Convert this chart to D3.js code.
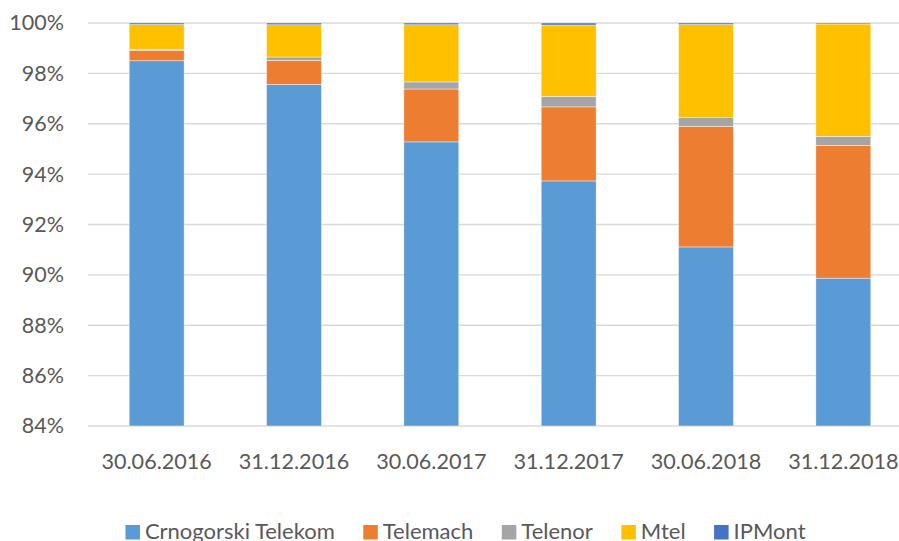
<!DOCTYPE html>
<html>
<head>
<meta charset="utf-8">
<script src="https://cdn.jsdelivr.net/npm/d3@7"></script>
<style>
  body { margin: 0; background: #fff; }
  text { font-family: Lato, "Open Sans", sans-serif; fill: #595959; }
</style>
</head>
<body>
<div id="app"></div>
<script>
// market share by operator, stacked to 100%, axis cut at 84%

const dates = ["30.06.2016", "31.12.2016", "30.06.2017", "31.12.2017", "30.06.2018", "31.12.2018"];
const operators = ["Crnogorski Telekom", "Telemach", "Telenor", "Mtel", "IPMont"];
const colors = ["#5B9BD5", "#ED7D31", "#A5A5A5", "#FFC000", "#4472C4"];

// shares in %, one array per operator
const crnogorski = [98.50, 97.56, 95.28, 93.73, 91.11, 89.87];
const telemach   = [0.41, 0.96, 2.10, 2.94, 4.79, 5.27];
const telenor    = [0.05, 0.13, 0.28, 0.42, 0.35, 0.36];
const mtel       = [0.98, 1.28, 2.27, 2.83, 3.69, 4.46];
const ipmont     = [0.06, 0.07, 0.07, 0.08, 0.06, 0.04];

const yTicks = [84, 86, 88, 90, 92, 94, 96, 98, 100];

const series = [crnogorski, telemach, telenor, mtel, ipmont];
const rows = dates.map((d, i) => {
  const r = { date: d };
  operators.forEach((op, k) => (r[op] = series[k][i]));
  return r;
});

const width = 899;
const height = 541;
const margin = { top: 23, right: -13, bottom: 115, left: 88 };
const boundedWidth = width - margin.left - margin.right;
const boundedHeight = height - margin.top - margin.bottom;

const svg = d3
  .select("#app")
  .append("svg")
  .attr("width", width)
  .attr("height", height);

const bounds = svg
  .append("g")
  .attr("transform", `translate(${margin.left},${margin.top})`);

const xScale = d3
  .scaleBand()
  .domain(dates)
  .range([0, boundedWidth])
  .paddingInner(0.6)
  .paddingOuter(0.3);

const yScale = d3
  .scaleLinear()
  .domain([84, 100])
  .range([boundedHeight, 0])
  .clamp(true);

// grid
bounds
  .append("g")
  .selectAll("line")
  .data(yTicks)
  .join("line")
  .attr("x1", 0)
  .attr("x2", boundedWidth)
  .attr("y1", (d) => yScale(d))
  .attr("y2", (d) => yScale(d))
  .attr("stroke", "#d9d9d9")
  .attr("stroke-width", 1.3);

// stacked bars
const stacked = d3.stack().keys(operators)(rows);

bounds
  .append("g")
  .selectAll("g")
  .data(stacked)
  .join("g")
  .attr("fill", (d, i) => colors[i])
  .selectAll("rect")
  .data((d) => d)
  .join("rect")
  .attr("x", (d) => xScale(d.data.date))
  .attr("width", xScale.bandwidth())
  .attr("y", (d) => yScale(d[1]))
  .attr("height", (d) => yScale(d[0]) - yScale(d[1]))
  .attr("stroke", "#ffffff")
  .attr("stroke-width", 0.6)
  .attr("stroke-opacity", 0.7);

// y axis labels
const yAxis = bounds
  .append("g")
  .call(
    d3.axisLeft(yScale)
      .tickValues(yTicks)
      .tickFormat((d) => d + "%")
      .tickSize(0)
      .tickPadding(24)
  );
yAxis.select(".domain").remove();
yAxis.selectAll("text")
  .style("font-size", "21.5px")
  .attr("fill", "#595959");

// x axis labels
const xAxis = bounds
  .append("g")
  .attr("transform", `translate(0,${boundedHeight})`)
  .call(d3.axisBottom(xScale).tickSize(0).tickPadding(28));
xAxis.select(".domain").remove();
xAxis.selectAll("text")
  .style("font-size", "21.6px")
  .attr("fill", "#595959");

// legend
const legend = svg.append("g").attr("transform", "translate(0,532)");
const items = legend
  .selectAll("g")
  .data(operators)
  .join("g");

items
  .append("rect")
  .attr("y", -7)
  .attr("width", 14.5)
  .attr("height", 14.5)
  .attr("fill", (d, i) => colors[i]);

items
  .append("text")
  .attr("x", 19.5)
  .attr("dy", "0.34em")
  .style("font-size", "22px")
  .text((d) => d);

let cursor = 0;
const offsets = [];
items.each(function () {
  offsets.push(cursor);
  const w = d3.select(this).select("text").node().getComputedTextLength();
  cursor += 19.5 + w + 28.5;
});
const legendWidth = cursor - 28.5;
const legendStart = 465.5 - legendWidth / 2;
items.attr("transform", (d, i) => `translate(${legendStart + offsets[i]},0)`);
</script>
</body>
</html>
